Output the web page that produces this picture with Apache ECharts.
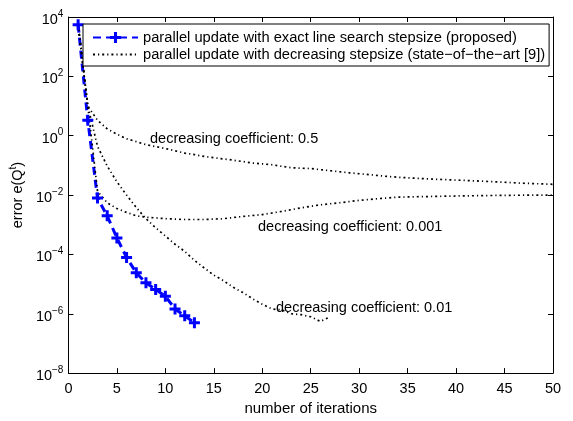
<!DOCTYPE html>
<html>
<head>
<meta charset="utf-8">
<script src="https://cdn.jsdelivr.net/npm/echarts@6/dist/echarts.min.js"></script>
<style>
html, body { margin: 0; padding: 0; background: #fff; }
#chart { width: 573px; height: 421px; }
</style>
</head>
<body>
<div id="chart"></div>
<script>
// proposed method (blue, markers)
var propIters = [1, 2, 3, 4, 5, 6, 7, 8, 9, 10, 11, 12, 13];
var propErr = [5.5e3, 3.3, 7.9e-3, 2.0e-3, 3.6e-4, 7.9e-5, 2.4e-5, 1.1e-5, 6.6e-6, 3.9e-6, 1.45e-6, 8.5e-7, 5.0e-7];

// decreasing stepsize, coefficient 0.5
var c05Iters = [1, 2, 3, 4, 5, 6, 7, 8, 9, 10, 11, 12, 13, 14, 17, 19, 21, 23, 25, 27, 29, 31, 33, 35, 38, 41, 44, 47, 50];
var c05Err = [5.5e3, 10, 3.3, 1.7, 1.12, 0.79, 0.63, 0.5, 0.43, 0.37, 0.31, 0.26, 0.23, 0.2, 0.15, 0.12, 0.105, 0.083, 0.078, 0.066, 0.056, 0.049, 0.042, 0.038, 0.034, 0.031, 0.028, 0.025, 0.023];

// coefficient 0.001
var c0001Iters = [1, 2, 3, 4, 5, 6, 7, 8, 10, 12, 14, 16, 18, 20, 22, 24, 26, 28, 30, 32, 34, 37, 40, 45, 50];
var c0001Err = [5.5e3, 10, 0.0135, 0.0055, 0.0035, 0.0026, 0.002, 0.0018, 0.0016, 0.0015, 0.0015, 0.0016, 0.0019, 0.0022, 0.0028, 0.0037, 0.0047, 0.0055, 0.0066, 0.0076, 0.0085, 0.0089, 0.0093, 0.0098, 0.01];

// coefficient 0.01
var c001Iters = [1, 2, 3, 4, 5, 6, 7, 8, 9, 10, 11, 12, 13, 14, 15, 16, 17, 18, 19, 20, 21, 22, 23, 24, 25, 26, 27];
var c001Err = [5.5e3, 10, 0.44, 0.095, 0.028, 0.01, 3.8e-3, 1.6e-3, 7.9e-4, 4.2e-4, 2.2e-4, 1.26e-4, 6.3e-5, 3.5e-5, 2.0e-5, 1.3e-5, 7.8e-6, 5.2e-6, 3.2e-6, 2.1e-6, 1.45e-6, 1.35e-6, 1.0e-6, 9.3e-7, 7.9e-7, 5.5e-7, 7.9e-7];

var yTicks = [1e-8, 1e-6, 1e-4, 1e-2, 1, 1e2, 1e4];

var nameProp = 'parallel update with exact line search stepsize (proposed)';
var nameDec = 'parallel update with decreasing stepsize (state\u2212of\u2212the\u2212art [9])';

function pairs(xs, ys) {
	var out = [];
	for (var i = 0; i < xs.length; i++) out.push([xs[i], ys[i]]);
	return out;
}

var font = 'Liberation Sans';
var fs = 14.5;
var plus = 'path://M4,0H7V4H11V7H7V11H4V7H0V4H4Z';
var dashDot = [2, 3, 1.2, 3];

var myChart = echarts.init(document.getElementById('chart'));

var axisLine = { show: true, onZero: false, lineStyle: { color: '#000', width: 1 } };
var tick = { show: true, inside: true, length: 5, lineStyle: { color: '#000' } };

function yLabel(v) {
	var e = Math.round(Math.log10(v));
	return '{b|10}{s|' + (e < 0 ? '\u2212' + (-e) : e) + '}';
}

var option = {
	animation: false,
	backgroundColor: '#fff',
	textStyle: { fontFamily: font },
	grid: { left: 68, right: 20, top: 17, bottom: 38 },
	legend: {
		orient: 'vertical',
		left: 83,
		top: 24,
		padding: [6, 4, 4, 9],
		itemGap: 2,
		itemWidth: 45,
		itemHeight: 14,
		backgroundColor: '#fff',
		borderColor: '#000',
		borderWidth: 1,
		borderRadius: 0,
		textStyle: { fontFamily: font, fontSize: 14.7, color: '#000' },
		data: [
			{ name: nameProp },
			{ name: nameDec, itemStyle: { color: 'rgba(0,0,0,0)', opacity: 0 } }
		]
	},
	xAxis: [{
		type: 'value', position: 'bottom', min: 0, max: 50, interval: 5,
		axisLine: axisLine, axisTick: tick, splitLine: { show: false },
		axisLabel: { color: '#000', fontSize: fs, margin: 8, fontFamily: font },
		name: 'number of iterations', nameLocation: 'middle', nameGap: 25,
		nameTextStyle: { color: '#000', fontSize: 15, fontFamily: font }
	}, {
		type: 'value', position: 'top', min: 0, max: 50, interval: 5,
		axisLine: axisLine, axisTick: tick, splitLine: { show: false },
		axisLabel: { show: false }
	}],
	yAxis: [{
		type: 'log', logBase: 10, position: 'left', min: 1e-8, max: 1e4,
		axisLine: axisLine,
		axisTick: { show: true, inside: true, length: 5, lineStyle: { color: '#000' }, customValues: yTicks },
		splitLine: { show: false }, minorTick: { show: false },
		axisLabel: {
			color: '#000', margin: 5, formatter: yLabel, customValues: yTicks,
			rich: {
				b: { fontSize: fs, fontFamily: font, color: '#000', padding: [6, 0, 0, 0] },
				s: { fontSize: 10, fontFamily: font, color: '#000', padding: [0, 0, 6, 0] }
			}
		},
		name: 'error e(Q{s|t})', nameLocation: 'middle', nameGap: 36,
		nameTextStyle: {
			color: '#000', fontSize: fs, fontFamily: font,
			rich: { s: { fontSize: 10, fontFamily: font, color: '#000', padding: [0, 0, 9, 0] } }
		}
	}, {
		type: 'log', logBase: 10, position: 'right', min: 1e-8, max: 1e4,
		axisLine: axisLine,
		axisTick: { show: true, inside: true, length: 5, lineStyle: { color: '#000' }, customValues: yTicks },
		splitLine: { show: false },
		axisLabel: { show: false }
	}],
	series: [{
		name: nameProp, type: 'line', xAxisIndex: 0, yAxisIndex: 0,
		data: pairs(propIters, propErr),
		symbol: plus, symbolSize: 11, showSymbol: true,
		itemStyle: { color: '#0000ff' },
		lineStyle: { color: '#0000ff', width: 3, type: [8, 5] }
	}, {
		name: nameDec, type: 'line', data: pairs(c05Iters, c05Err),
		symbol: 'none', itemStyle: { color: '#000' },
		lineStyle: { color: '#000', width: 1.7, type: dashDot }
	}, {
		name: nameDec, type: 'line', data: pairs(c0001Iters, c0001Err),
		symbol: 'none', itemStyle: { color: '#000' },
		lineStyle: { color: '#000', width: 1.7, type: dashDot }
	}, {
		name: nameDec, type: 'line', data: pairs(c001Iters, c001Err),
		symbol: 'none', itemStyle: { color: '#000' },
		lineStyle: { color: '#000', width: 1.7, type: dashDot }
	}],
	graphic: [
		{ type: 'text', x: 150, y: 139, style: { text: 'decreasing coefficient: 0.5', font: fs + 'px "Liberation Sans"', fill: '#000', verticalAlign: 'middle' } },
		{ type: 'text', x: 258, y: 227, style: { text: 'decreasing coefficient: 0.001', font: fs + 'px "Liberation Sans"', fill: '#000', verticalAlign: 'middle' } },
		{ type: 'text', x: 276, y: 308, style: { text: 'decreasing coefficient: 0.01', font: fs + 'px "Liberation Sans"', fill: '#000', verticalAlign: 'middle' } }
	]
};

myChart.setOption(option);
</script>
</body>
</html>
